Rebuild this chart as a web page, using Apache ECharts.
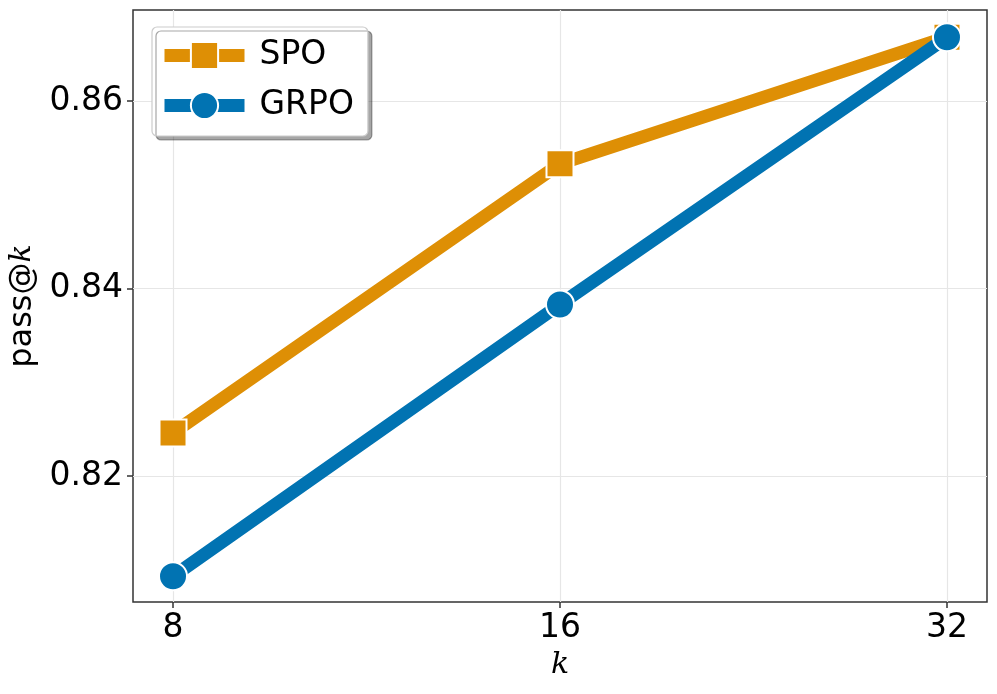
<!DOCTYPE html>
<html><head><meta charset="utf-8">
<script src="https://cdn.jsdelivr.net/npm/echarts@6/dist/echarts.min.js"></script>
<style>html,body{margin:0;padding:0;background:#fff}#c{width:997px;height:694px}</style>
</head><body><div id="c"></div>
<script>
const kValues = [8, 16, 32];
const xTicks = [8, 16, 32];
const yTicks = [0.82, 0.84, 0.86];
const spo = [0.8246, 0.8533, 0.8668];
const grpo = [0.8093, 0.8383, 0.8668];

const lx = kValues.map(k => Math.log2(k));
const chart = echarts.init(document.getElementById('c'), null, {renderer: 'canvas'});
const FONT = 'DejaVu Sans';
chart.setOption({
  animation: false,
  grid: {left: 133, right: 10, top: 10, bottom: 92, outerBoundsMode: 'none', containLabel: false,
    show: true, borderColor: '#333', borderWidth: 1.5, backgroundColor: 'transparent'},
  legend: {
    left: 152, top: 27, orient: 'vertical',
    padding: [12, 14, 14, 6],
    itemWidth: 80, itemHeight: 34, itemGap: 17,
    backgroundColor: '#fff', borderColor: '#ccc', borderWidth: 1.2, borderRadius: 5,
    shadowColor: 'rgba(0,0,0,0.35)', shadowOffsetX: 4, shadowOffsetY: 4, shadowBlur: 0,
    lineStyle: {width: 13},
    textStyle: {fontFamily: FONT, fontSize: 33, color: '#000', padding: [0, 0, 0, 10]},
    data: ['SPO', 'GRPO']
  },
  xAxis: {
    type: 'value', min: 2.8966, max: 5.1034,
    name: 'k', nameLocation: 'middle', nameGap: 48,
    nameTextStyle: {fontFamily: 'DejaVu Serif', fontStyle: 'italic', fontSize: 30, color: '#000'},
    axisLine: {show: false},
    axisTick: {show: true, length: 6, lineStyle: {color: '#333', width: 1.5}, customValues: xTicks.map(Math.log2)},
    axisLabel: {fontFamily: FONT, fontSize: 33, color: '#000', margin: 10, customValues: xTicks.map(Math.log2),
      formatter: v => String(Math.round(Math.pow(2, v)))},
    splitLine: {show: true, lineStyle: {color: '#e6e6e6', width: 1.2}, customValues: xTicks.map(Math.log2)}
  },
  yAxis: {
    type: 'value', min: 0.80656, max: 0.86971,
    name: '{a|pass@}{b|k}', nameLocation: 'middle', nameGap: 90, nameRotate: 90,
    nameTextStyle: {rich: {a: {fontFamily: FONT, fontSize: 32, color: '#000'}, b: {fontFamily: 'DejaVu Serif', fontStyle: 'italic', fontSize: 30, color: '#000'}}},
    axisLine: {show: false},
    axisTick: {show: true, length: 6, lineStyle: {color: '#333', width: 1.5}, customValues: yTicks},
    axisLabel: {fontFamily: FONT, fontSize: 33, color: '#000', margin: 10, customValues: yTicks,
      formatter: v => v.toFixed(2)},
    splitLine: {show: true, lineStyle: {color: '#e6e6e6', width: 1.2}, customValues: yTicks}
  },
  series: [
    {name: 'SPO', type: 'line', data: lx.map((x, i) => [x, spo[i]]),
      symbol: 'rect', symbolSize: 27, z: 2,
      lineStyle: {color: '#DE8F05', width: 13},
      itemStyle: {color: '#DE8F05', borderColor: '#fff', borderWidth: 2}},
    {name: 'GRPO', type: 'line', data: lx.map((x, i) => [x, grpo[i]]),
      symbol: 'circle', symbolSize: 28, z: 3,
      lineStyle: {color: '#0173B2', width: 13},
      itemStyle: {color: '#0173B2', borderColor: '#fff', borderWidth: 2}}
  ]
});
</script></body></html>
